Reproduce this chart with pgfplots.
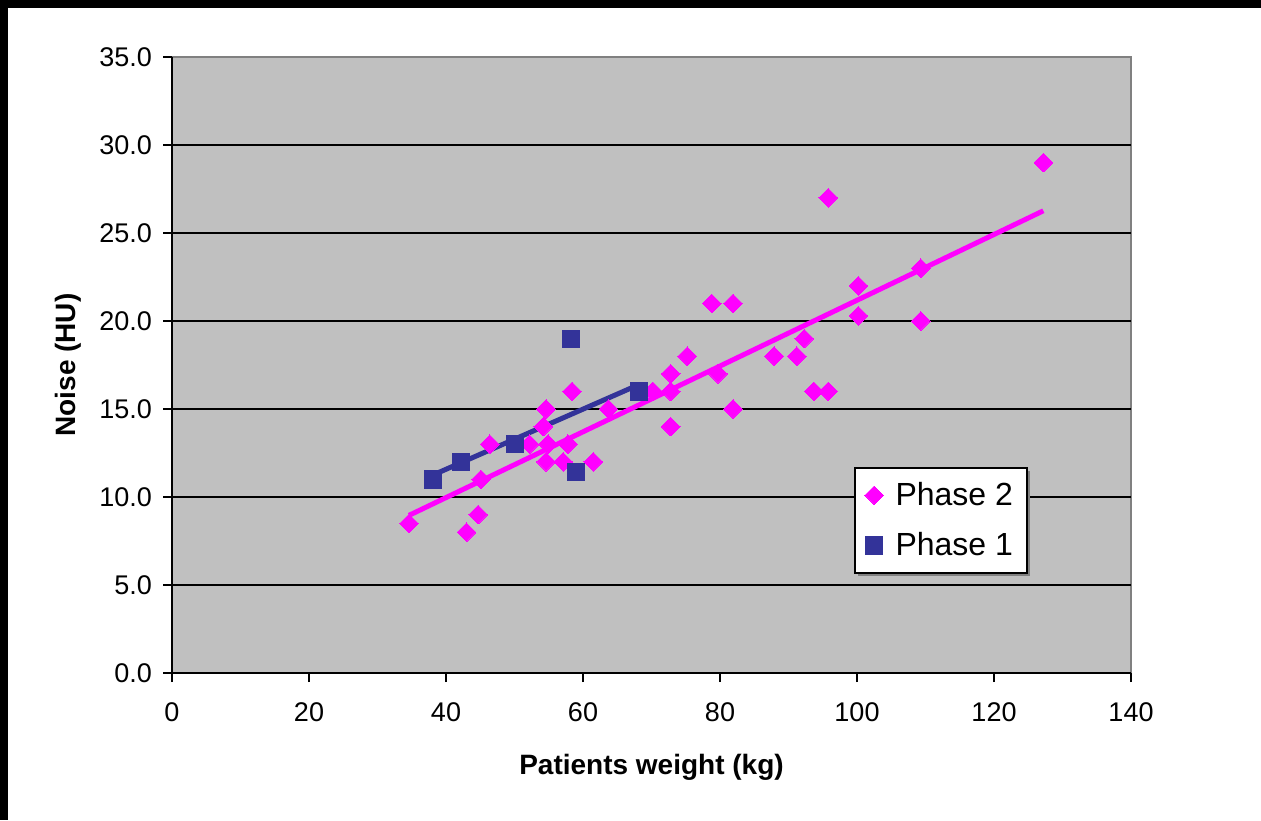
\documentclass[border=0pt]{standalone}
\usepackage{fontspec}
\setmainfont{Liberation Sans}
\usepackage{pgfplots}
\usepackage{pgfplotstable}
\pgfplotsset{compat=1.18}
\usetikzlibrary{shadows}

\definecolor{plotbg}{HTML}{C0C0C0}
\definecolor{plotborder}{HTML}{808080}
\definecolor{phaseone}{HTML}{333399}
\definecolor{phasetwo}{HTML}{FF00FF}

% Phase 2 (magenta diamonds)
\pgfplotstableread{
W N
34.6 8.5
43.0 8.0
44.7 9.0
45.1 11.0
46.4 13.0
52.2 13.0
54.2 14.0
54.6 15.0
54.9 13.0
54.6 12.0
57.1 12.0
57.8 13.0
58.4 16.0
61.5 12.0
63.7 15.0
70.2 16.0
72.8 17.0
72.8 16.0
72.8 14.0
75.2 18.0
78.8 21.0
81.9 21.0
79.7 17.0
81.9 15.0
87.9 18.0
91.2 18.0
92.3 19.0
93.7 16.0
95.8 16.0
95.8 27.0
100.2 22.0
100.2 20.3
109.3 23.0
109.3 20.0
127.2 29.0
}\phasetwodata

% Phase 1 (blue squares)
\pgfplotstableread{
W N
38.1 11.0
42.2 12.0
50.1 13.0
58.2 19.0
59.0 11.4
68.2 16.0
}\phaseonedata

\begin{document}
\begin{tikzpicture}
\useasboundingbox (0,0) rectangle (630.5pt,410pt);
\fill[black] (0,406pt) rectangle (630.5pt,410pt);
\fill[black] (0,0) rectangle (4pt,410pt);
\begin{axis}[
  at={(86pt,73.5pt)}, anchor=south west,
  scale only axis, width=479.5pt, height=308pt,
  xmin=0, xmax=140, ymin=0, ymax=35,
  xtick={0,20,...,140}, ytick={0,5,...,35},
  axis x line*=bottom, axis y line*=left,
  axis line style={-, black, line width=1pt},
  axis background/.style={fill=plotbg, draw=plotborder, line width=1.2pt},
  tick align=outside, major tick length=4.5pt,
  tick style={black, line width=1pt},
  extra y ticks={5,10,15,20,25,30}, extra y tick labels={},
  extra y tick style={grid=major, major grid style={black, line width=1pt}},
  /pgf/number format/assume math mode=true,
  tick label style={font=\fontsize{13.5}{16}\selectfont},
  xticklabel style={yshift=-7pt},
  yticklabel style={xshift=-2pt, /pgf/number format/.cd, fixed, fixed zerofill, precision=1},
  xlabel={Patients weight (kg)},
  ylabel={Noise (HU)},
  xlabel style={at={(axis description cs:0.5,-0.165)}, anchor=base,
    font=\fontsize{14}{17}\selectfont\bfseries},
  ylabel style={at={(axis description cs:-0.1084,0.5)}, anchor=center,
    font=\fontsize{14}{17}\selectfont\bfseries},
  legend style={at={(0.711,0.334)}, anchor=north west,
    font=\fontsize{16}{19}\selectfont, draw=black, line width=1pt, fill=white,
    inner xsep=5pt, inner ysep=5pt, row sep=8pt, column sep=4pt,
    drop shadow={shadow xshift=1.5pt, shadow yshift=-1.5pt, fill=plotborder, opacity=1}},
  legend cell align=left,
  clip=false,
]
\addplot[only marks, mark=square*, mark size=3.3pt, color=phasetwo,
  mark options={rotate=45, line width=0pt}] table[x=W, y=N] {\phasetwodata};
\addlegendentry{Phase 2}
\addplot[only marks, mark=square*, mark size=4.3pt, color=phaseone,
  mark options={line width=0pt}] table[x=W, y=N] {\phaseonedata};
\addlegendentry{Phase 1}
\addplot[forget plot, no marks, color=phasetwo, line width=2.5pt]
  table[x=W, y={create col/linear regression={y=N}}] {\phasetwodata};
\addplot[forget plot, no marks, color=phaseone, line width=2.5pt]
  table[x=W, y={create col/linear regression={y=N}}] {\phaseonedata};
\end{axis}
\end{tikzpicture}
\end{document}
